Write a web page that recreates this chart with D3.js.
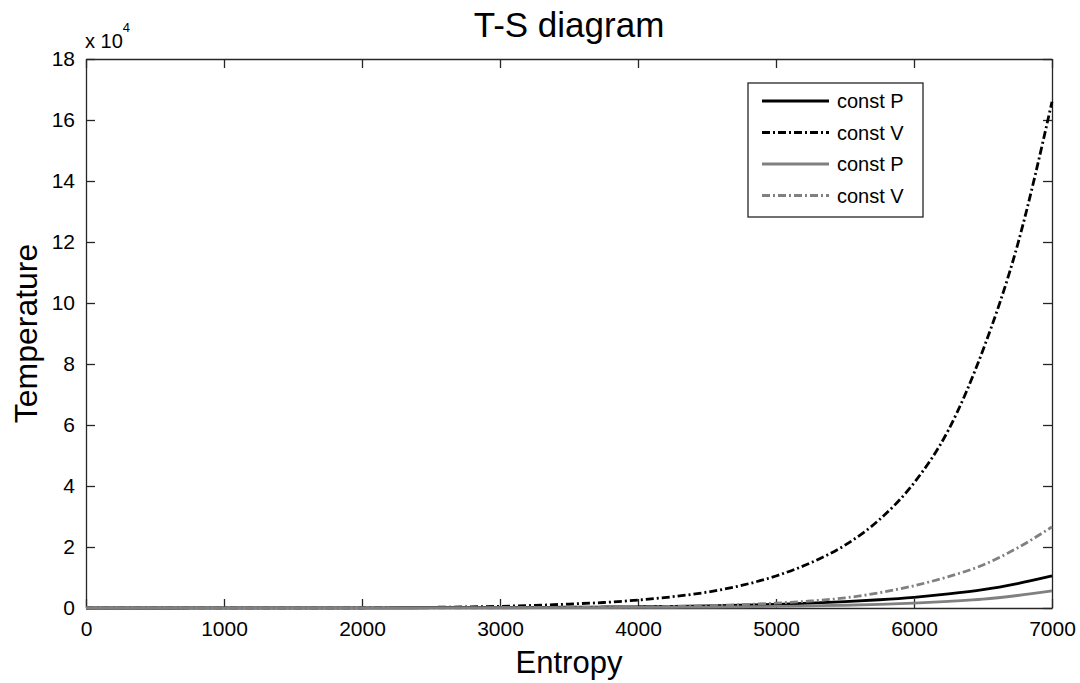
<!DOCTYPE html>
<html>
<head>
<meta charset="utf-8">
<style>
  body { margin: 0; background: #fff; }
  text { font-family: "Liberation Sans", Arial, sans-serif; fill: #000; }
</style>
</head>
<body>
<svg id="chart" width="1080" height="683"></svg>

<script src="https://d3js.org/d3.v7.min.js"></script>
<script>
    const WIDTH = 1080;
    const HEIGHT = 683;

    // entropy samples and temperatures (units of 1e4)
    const entropy = [0, 250, 500, 750, 1000, 1250, 1500, 1750, 2000, 2250, 2500, 2750,
                     3000, 3250, 3500, 3750, 4000, 4250, 4500, 4750, 5000, 5250, 5500,
                     5750, 6000, 6250, 6500, 6750, 7000];
    const constP_black = [0, 0, 0, 0.001, 0.002, 0.003, 0.004, 0.005, 0.006, 0.008, 0.01, 0.012,
                          0.015, 0.02, 0.025, 0.032, 0.04, 0.05, 0.065, 0.09, 0.12, 0.16, 0.21,
                          0.27, 0.35, 0.46, 0.6, 0.8, 1.05];
    const constV_black = [0, 0, 0, 0.001, 0.002, 0.003, 0.004, 0.006, 0.009, 0.014, 0.022, 0.035,
                          0.055, 0.085, 0.13, 0.18, 0.26, 0.37, 0.52, 0.74, 1.05, 1.48, 2.06,
                          2.9, 4.1, 5.84, 8.46, 11.9, 16.6];
    const constP_gray = [0, 0, 0, 0, 0.001, 0.001, 0.002, 0.002, 0.003, 0.004, 0.005, 0.006,
                         0.008, 0.01, 0.012, 0.015, 0.02, 0.025, 0.03, 0.04, 0.05, 0.07, 0.09,
                         0.12, 0.16, 0.22, 0.29, 0.41, 0.56];
    const constV_gray = [0, 0, 0, 0, 0, 0, 0, 0, 0.001, 0.002, 0.003, 0.005,
                         0.008, 0.012, 0.017, 0.025, 0.035, 0.05, 0.075, 0.11, 0.16, 0.23, 0.33,
                         0.5, 0.73, 1.03, 1.41, 1.97, 2.66];

    const xTicks = [0, 1000, 2000, 3000, 4000, 5000, 6000, 7000];
    const yTicks = [0, 2, 4, 6, 8, 10, 12, 14, 16, 18];

    const seriesNames = ['const P', 'const V', 'const P', 'const V'];
    const seriesData = [constP_black, constV_black, constP_gray, constV_gray];
    const seriesColor = ['#000000', '#000000', '#808080', '#808080'];
    const seriesDash = [null, '8,3,2,3', null, '8,3,2,3'];

    const margin = {left: 86, right: 28, top: 59, bottom: 75};
    const plotW = WIDTH - margin.left - margin.right;
    const plotH = HEIGHT - margin.top - margin.bottom;

    let svg = d3.select('#chart');

    let x = d3.scaleLinear().domain([0, 7000]).range([margin.left, margin.left + plotW]);
    let y = d3.scaleLinear().domain([0, 18]).range([margin.top + plotH, margin.top]);

    // axes box with inward ticks on all four sides
    svg.append('g')
        .attr('transform', `translate(0,${y(0)})`)
        .call(d3.axisBottom(x).tickValues(xTicks).tickFormat(d3.format('d'))
            .tickSizeInner(-9).tickSizeOuter(0).tickPadding(13))
        .call(g => g.selectAll('text').style('font-size', '21px'));
    svg.append('g')
        .attr('transform', `translate(0,${y(18)})`)
        .call(d3.axisTop(x).tickValues(xTicks).tickSizeInner(-9).tickSizeOuter(0).tickFormat(''));
    svg.append('g')
        .attr('transform', `translate(${x(0)},0)`)
        .call(d3.axisLeft(y).tickValues(yTicks).tickSizeInner(-9).tickSizeOuter(0).tickPadding(11))
        .call(g => g.selectAll('text').style('font-size', '21px'));
    svg.append('g')
        .attr('transform', `translate(${x(7000)},0)`)
        .call(d3.axisRight(y).tickValues(yTicks).tickSizeInner(-9).tickSizeOuter(0).tickFormat(''));

    svg.selectAll('.domain, .tick line').attr('stroke', '#262626').attr('stroke-width', 1.3);
    svg.selectAll('.tick text').attr('fill', '#000').style('font-family', '"Liberation Sans", Arial, sans-serif');

    // lines
    let line = d3.line()
        .x((d, i) => x(entropy[i]))
        .y(d => y(d))
        .curve(d3.curveMonotoneX);

    seriesData.forEach(function(vals, i) {
        svg.append('path')
            .datum(vals)
            .attr('d', line)
            .attr('fill', 'none')
            .attr('stroke', seriesColor[i])
            .attr('stroke-width', 2.8)
            .attr('stroke-dasharray', seriesDash[i]);
    });

    // exponent label
    let expo = svg.append('text')
        .attr('x', 85)
        .attr('y', 48)
        .style('font-size', '20px');
    expo.append('tspan').text('x 10');
    expo.append('tspan').attr('dy', -16).style('font-size', '13px').text('4');

    // title and axis labels
    svg.append('text')
        .attr('x', (x(0) + x(7000)) / 2)
        .attr('y', 37)
        .attr('text-anchor', 'middle')
        .style('font-size', '35px')
        .text('T-S diagram');
    svg.append('text')
        .attr('x', (x(0) + x(7000)) / 2)
        .attr('y', 673)
        .attr('text-anchor', 'middle')
        .style('font-size', '31px')
        .text('Entropy');
    svg.append('text')
        .attr('transform', `translate(37,${(y(0) + y(18)) / 2}) rotate(-90)`)
        .attr('text-anchor', 'middle')
        .style('font-size', '32px')
        .text('Temperature');

    // legend
    let legend = svg.append('g').attr('transform', 'translate(748,83)');
    legend.append('rect')
        .attr('width', 175)
        .attr('height', 134)
        .attr('fill', '#fff')
        .attr('stroke', '#262626')
        .attr('stroke-width', 1.3);
    seriesNames.forEach(function(name, i) {
        let cy = 18 + i * 31.5;
        legend.append('line')
            .attr('x1', 14).attr('x2', 81)
            .attr('y1', cy).attr('y2', cy)
            .attr('stroke', seriesColor[i])
            .attr('stroke-width', 2.8)
            .attr('stroke-dasharray', seriesDash[i]);
        legend.append('text')
            .attr('x', 89)
            .attr('y', cy + 7)
            .style('font-size', '20px')
            .text(name);
    });
</script>
</body>
</html>
